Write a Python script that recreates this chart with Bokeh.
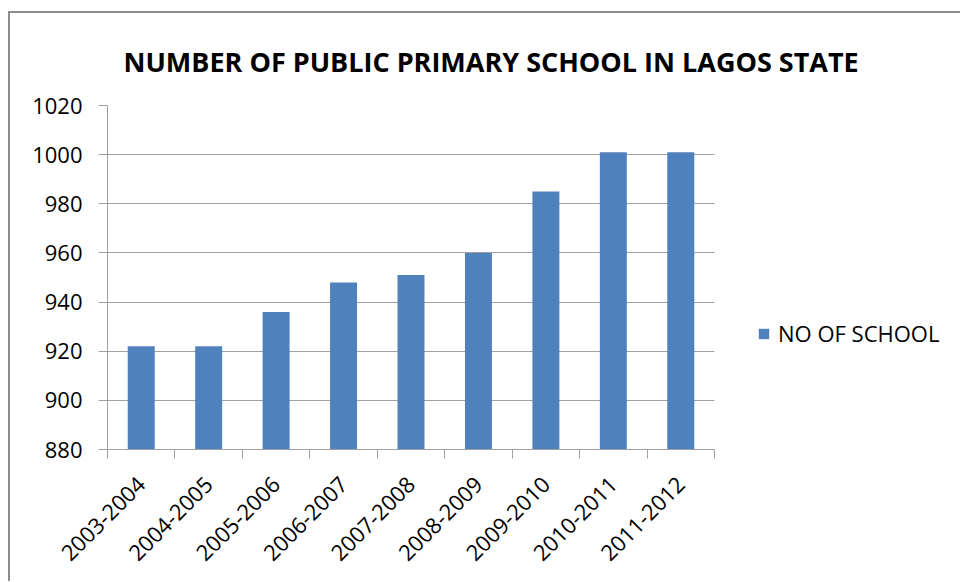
from bokeh.plotting import figure
from bokeh.models import Range1d, FixedTicker, Legend, LegendItem, ColumnDataSource
from bokeh.embed import file_html
from bokeh.resources import INLINE
import math

categories = ["2003-2004", "2004-2005", "2005-2006", "2006-2007", "2007-2008",
              "2008-2009", "2009-2010", "2010-2011", "2011-2012"]
schools = [922, 922, 936, 948, 951, 960, 985, 1001, 1001]
series_name = "NO OF SCHOOL"
title_text = "NUMBER OF PUBLIC PRIMARY SCHOOL IN LAGOS STATE"
y_ticks = [880, 900, 920, 940, 960, 980, 1000, 1020]

FONT = "Open Sans"
BAR = "#4F81BD"
GRID = "#A0A0A0"

centers = [i + 0.5 for i in range(len(categories))]
bounds = list(range(len(categories) + 1))

src = ColumnDataSource(dict(x=centers, top=schools, cat=categories))

p = figure(frame_width=607, frame_height=344, output_backend="svg",
           toolbar_location=None,
           x_range=Range1d(0, len(categories)), y_range=Range1d(880, 1020),
           min_border_left=97, min_border_top=92, min_border_bottom=132,
           min_border_right=245)
p.outline_line_color = None
p.background_fill_color = "white"
p.border_fill_color = "white"

r = p.vbar(x="x", top="top", bottom=880, width=0.4, source=src,
           fill_color=BAR, line_color=None)

# title
p.title.text = title_text
p.title.align = "left"
p.title.offset = 16
p.title.standoff = 52
p.title.text_font = FONT
p.title.text_font_style = "bold"
p.title.text_font_size = "27px"
p.title.text_color = "#000000"

# axes
p.xaxis.ticker = FixedTicker(ticks=centers, minor_ticks=bounds)
p.xaxis.major_label_overrides = {c: cat for c, cat in zip(centers, categories)}
p.xaxis.major_tick_line_color = None
p.xaxis.minor_tick_in = 0
p.xaxis.minor_tick_out = 9
p.xaxis.minor_tick_line_color = GRID
p.xaxis.axis_line_color = GRID
p.xaxis.major_label_orientation = math.pi / 4
p.xaxis.major_label_text_font = FONT
p.xaxis.major_label_text_font_size = "22px"
p.xaxis.major_label_text_color = "#000000"
p.xaxis.major_label_standoff = 22

p.yaxis.ticker = FixedTicker(ticks=y_ticks)
p.yaxis.minor_tick_line_color = None
p.yaxis.major_tick_in = 0
p.yaxis.major_tick_out = 9
p.yaxis.major_tick_line_color = GRID
p.yaxis.axis_line_color = GRID
p.yaxis.major_label_text_font = FONT
p.yaxis.major_label_text_font_size = "22px"
p.yaxis.major_label_text_color = "#000000"
p.yaxis.major_label_standoff = 16

p.xgrid.grid_line_color = None
p.ygrid.ticker = FixedTicker(ticks=y_ticks)
p.ygrid.grid_line_color = GRID
p.ygrid.grid_line_width = 1

legend = Legend(items=[LegendItem(label=series_name, renderers=[r])],
                location=(43, 101), border_line_color=None,
                background_fill_alpha=0, padding=0, margin=0,
                glyph_width=13, glyph_height=13, label_standoff=8,
                label_text_font=FONT, label_text_font_size="22px",
                label_text_color="#000000")
p.add_layout(legend, "right")

p.styles = {"border-top": "2px solid #8C8C8C", "border-left": "2px solid #8C8C8C",
            "margin-left": "8px", "margin-top": "11px"}

open("out.html", "w").write(file_html(p, INLINE))
